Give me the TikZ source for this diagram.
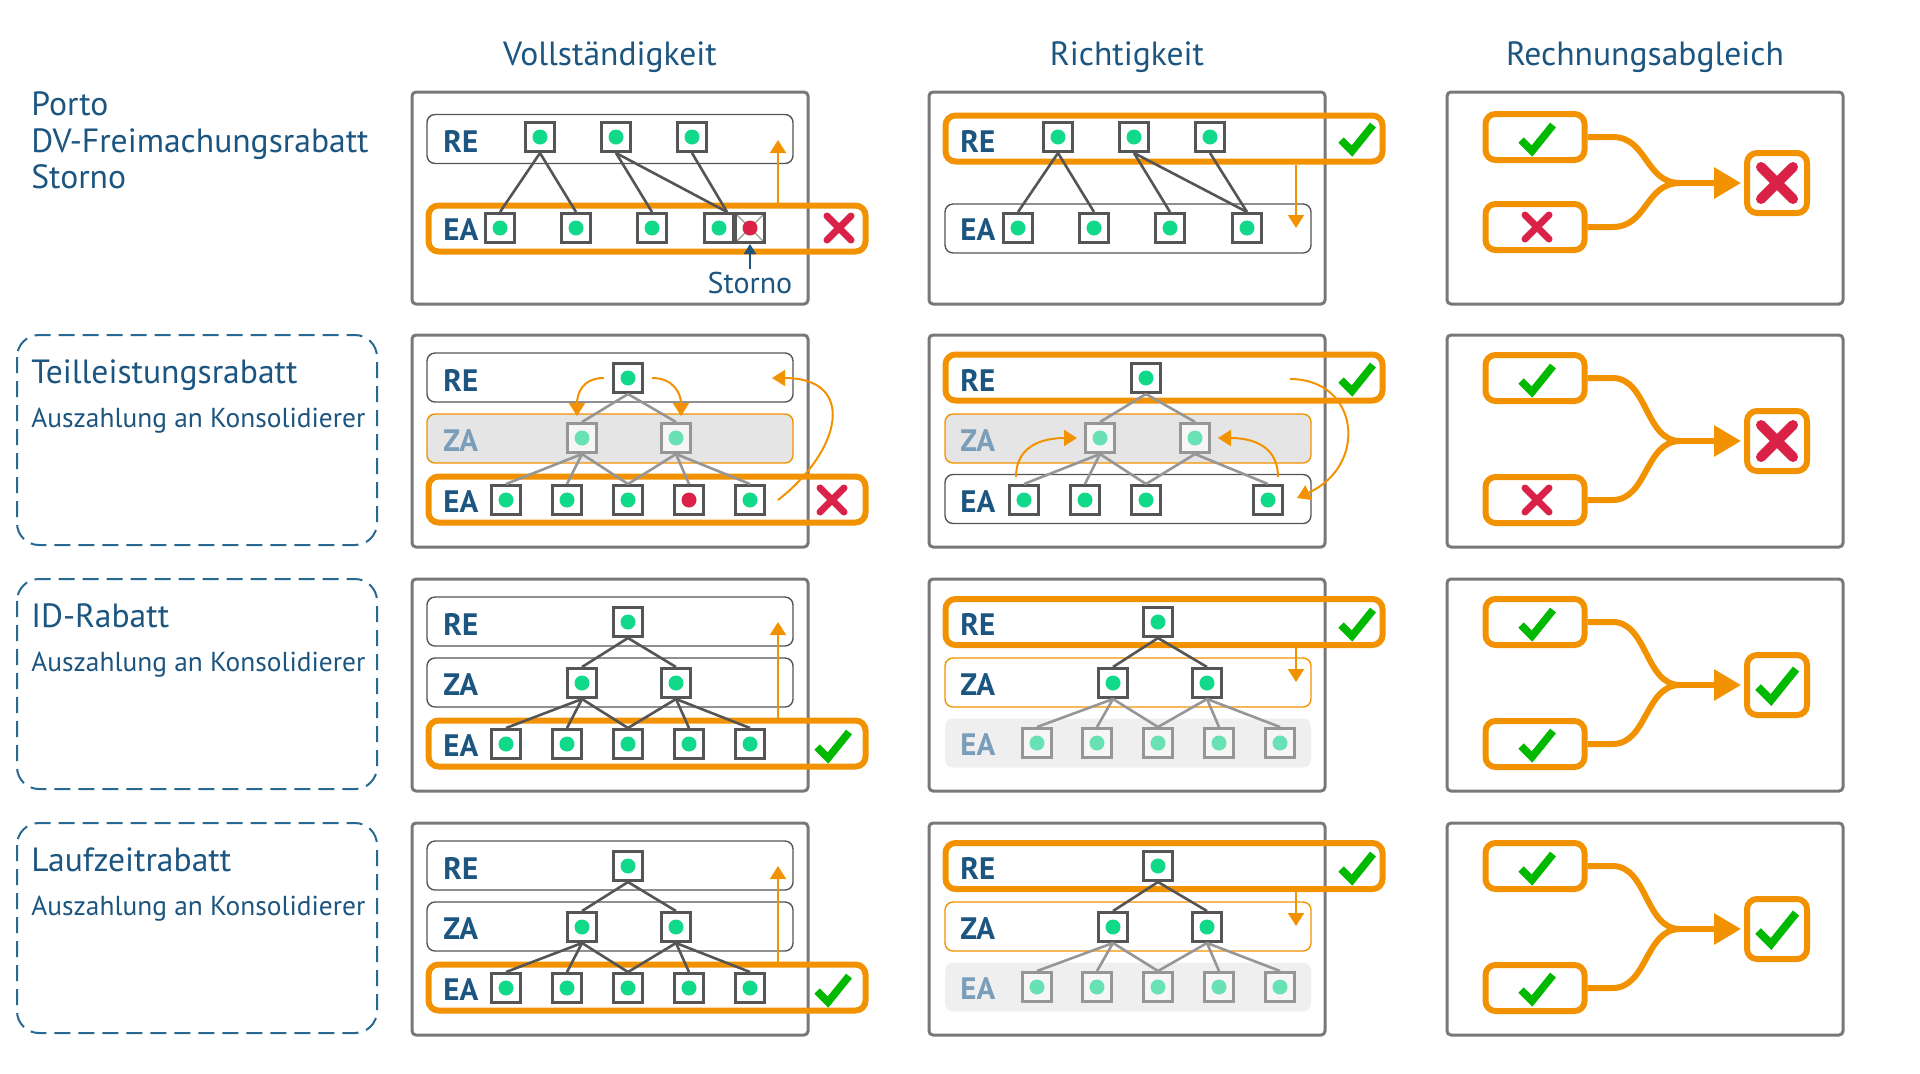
\documentclass[tikz,border=0pt]{standalone}
\usepackage{fontspec}
\setmainfont{PT Sans}
\usepackage{xcolor}
\usepackage{tikz}
\usetikzlibrary{arrows.meta,positioning,calc}

\definecolor{ttl}{RGB}{28,85,128}
\definecolor{grpblue}{RGB}{40,105,145}
\definecolor{orng}{RGB}{243,146,0}
\definecolor{okgreen}{RGB}{0,185,0}
\definecolor{errred}{RGB}{218,33,71}
\definecolor{dotgreen}{RGB}{16,217,137}
\definecolor{dotfade}{RGB}{104,226,180}
\definecolor{boxgray}{RGB}{85,85,85}
\definecolor{fadegray}{RGB}{150,150,150}
\definecolor{boxfill}{RGB}{246,246,246}
\definecolor{panelgray}{RGB}{120,120,120}
\definecolor{lblfade}{RGB}{122,157,186}
\definecolor{lanefill}{RGB}{229,229,229}
\definecolor{lanefill2}{RGB}{239,239,239}

\begin{document}
\begin{tikzpicture}[
    x=0.5pt, y=-0.5pt,
    head/.style={font=\fontsize{16.8}{20}\selectfont, text=ttl, inner sep=0pt},
    side/.style={font=\fontsize{16.8}{18.4}\selectfont, text=ttl, inner sep=0pt, align=left},
    sub/.style={font=\fontsize{13.7}{16}\selectfont, text=ttl, inner sep=0pt},
    lbl/.style={font=\bfseries\fontsize{15.5}{18}\selectfont, text=ttl, inner sep=0pt, anchor=west},
    dimlbl/.style={lbl, text=lblfade},
    note/.style={font=\fontsize{15}{17}\selectfont, text=ttl, inner sep=1pt},
    panel/.style={draw=panelgray, line width=1.5pt, rounded corners=2pt},
    groupbox/.style={draw=grpblue, line width=1pt, dash pattern=on 8pt off 4pt, rounded corners=11pt},
    lane/.style={draw=boxgray, line width=0.7pt, rounded corners=4pt, minimum width=183pt, minimum height=24.5pt, inner sep=0pt},
    dimlane/.style={lane, draw=orng, fill=lanefill},
    openlane/.style={lane, draw=orng},
    greylane/.style={lane, draw=none, fill=lanefill2},
    hot/.style={draw=orng, line width=3pt, rounded corners=5pt, minimum width=218.5pt, minimum height=23pt, inner sep=0pt},
    sqbase/.style={draw=boxgray, line width=1.5pt, fill=white, minimum size=14.5pt, inner sep=0pt},
    sq/.style={sqbase, path picture={\fill[dotgreen] (path picture bounding box.center) circle (3.75pt);}},
    sqdim/.style={sqbase, draw=fadegray, fill=boxfill,
      path picture={\fill[dotfade] (path picture bounding box.center) circle (3.75pt);}},
    sqbad/.style={sqbase, path picture={\fill[errred] (path picture bounding box.center) circle (3.75pt);}},
    sqstorno/.style={sqbase, path picture={
      \draw[fadegray, line width=0.6pt] (path picture bounding box.north west) -- (path picture bounding box.south east)
        (path picture bounding box.north east) -- (path picture bounding box.south west);
      \fill[errred] (path picture bounding box.center) circle (3.75pt);}},
    link/.style={draw=boxgray, line width=1.3pt},
    dimlink/.style={draw=fadegray, line width=1.3pt},
    warr/.style={draw=orng, line width=1pt, -{Triangle[width=8pt,length=6.5pt]}},
    stoarr/.style={draw=ttl, line width=1pt, -{Triangle[width=6pt,length=5pt]}},
    chip/.style={draw=orng, line width=3pt, rounded corners=5pt, minimum width=49.5pt, minimum height=23pt, inner sep=0pt},
    outbox/.style={chip, minimum width=30pt, minimum height=30pt},
    flow/.style={draw=orng, line width=3pt, line join=round},
    okmark/.pic={\draw[okgreen, line width=3.8pt] (-16,2) -- (-5,13) -- (16,-13);},
    badmark/.pic={\draw[errred, line width=3.5pt, line cap=round] (-12,-12) -- (12,12) (-12,12) -- (12,-12);},
    bigok/.pic={\draw[okgreen, line width=4pt] (-19,2) -- (-6,15) -- (19,-16);},
    bigbad/.pic={\draw[errred, line width=5pt, line cap=round] (-16,-16) -- (16,16) (-16,16) -- (16,-16);}
]
    \useasboundingbox (0,0) rectangle (1920,1073);

    % column heads
    \node (h1) [head, anchor=base] at (610,65) {Vollständigkeit};
    \node (h2) [head, anchor=base] at (1127,65) {Richtigkeit};
    \node (h3) [head, anchor=base] at (1645,65) {Rechnungsabgleich};

    % row heads
    \node (s1) [side, anchor=north west] at (31,91) {Porto\\DV-Freimachungsrabatt\\Storno};
    \begin{scope}[shift={(0,335)}]
        \draw[groupbox] (17,0) rectangle (377,210);
        \node (s2) [side, anchor=base west] at (31,48) {Teilleistungsrabatt};
        \node (s2b) [sub, anchor=base west] at (31,92) {Auszahlung an Konsolidierer};
    \end{scope}
    \begin{scope}[shift={(0,579)}]
        \draw[groupbox] (17,0) rectangle (377,210);
        \node (s3) [side, anchor=base west] at (31,48) {ID-Rabatt};
        \node (s3b) [sub, anchor=base west] at (31,92) {Auszahlung an Konsolidierer};
    \end{scope}
    \begin{scope}[shift={(0,823)}]
        \draw[groupbox] (17,0) rectangle (377,210);
        \node (s4) [side, anchor=base west] at (31,48) {Laufzeitrabatt};
        \node (s4b) [sub, anchor=base west] at (31,92) {Auszahlung an Konsolidierer};
    \end{scope}

    % Vollstaendigkeit, row 1
    \begin{scope}[shift={(412,92)}]
        \draw[panel] (0,0) rectangle (396,212);
        \node (re) [lane] at (198,47) {};
        \node (ea) [hot] at (235,136.5) {};
        \node (reL) [lbl] at (31,49) {RE};
        \node (eaL) [lbl] at (31,138) {EA};
        \foreach \n/\x in {1/128,2/204,3/280}
            \node (re\n) [sq] at (\x,45) {};
        \foreach \n/\x in {1/88,2/164,3/240,4/307}
            \node (ea\n) [sq] at (\x,136) {};
        \node (sto) [sqstorno] at (338,136) {};
        \coordinate (jn) at ($(ea4.north)+(8,0)$);
        \draw[link] (re1.south) -- (ea1.north);
        \draw[link] (re1.south) -- (ea2.north);
        \draw[link] (re2.south) -- (ea3.north);
        \draw[link] (re2.south) -- (jn);
        \draw[link] (re3.south) -- (jn);
        \coordinate (up) at (366,48);
        \draw[warr] (ea.north -| up) -- (up);
        \node (stxt) [note, anchor=base] at (338,201) {Storno};
        \draw[stoarr] (stxt.north) -- (sto.south);
        \pic at (427,136) {badmark};
    \end{scope}

    % Richtigkeit, row 1
    \begin{scope}[shift={(929,92)}]
        \draw[panel] (0,0) rectangle (396,212);
        \node (re) [hot] at (235,46.5) {};
        \node (ea) [lane] at (199,136.5) {};
        \node (reL) [lbl] at (31,49) {RE};
        \node (eaL) [lbl] at (31,138) {EA};
        \foreach \n/\x in {1/129,2/205,3/281}
            \node (re\n) [sq] at (\x,45) {};
        \foreach \n/\x in {1/89,2/165,3/241,4/318}
            \node (ea\n) [sq] at (\x,136) {};
        \draw[link] (re1.south) -- (ea1.north);
        \draw[link] (re1.south) -- (ea2.north);
        \draw[link] (re2.south) -- (ea3.north);
        \draw[link] (re2.south) -- (ea4.north);
        \draw[link] (re3.south) -- (ea4.north);
        \coordinate (dn) at (367,136);
        \draw[warr] (re.south -| dn) -- (dn);
        \pic at (428,46) {okmark};
    \end{scope}

    % Rechnungsabgleich, row 1
    \begin{scope}[shift={(1447,92)}]
        \draw[panel] (0,0) rectangle (396,212);
        \node (in1) [chip] at (88,45) {};
        \node (in2) [chip] at (88,135) {};
        \node (out) [outbox] at (330,91) {};
        \coordinate (mrg) at (233,91);
        \draw[flow] (in1.east) -- ++(25,0) .. controls +(35,0) and +(-35,0) .. (mrg);
        \draw[flow] (in2.east) -- ++(25,0) .. controls +(35,0) and +(-35,0) .. (mrg);
        \draw[flow, -{Triangle[length=13.5pt,width=15pt]}, shorten >=1.5pt] (mrg) -- (out.west);
        \pic at (90,46) {okmark};
        \pic at (90,135) {badmark};
        \pic at (330,91) {bigbad};
    \end{scope}

    % Vollstaendigkeit, row 2
    \begin{scope}[shift={(412,335)}]
        \draw[panel] (0,0) rectangle (396,212);
        \node (re) [lane] at (198,42.5) {};
        \node (za) [dimlane] at (198,103.5) {};
        \node (ea) [hot] at (235,164.5) {};
        \node (reL) [lbl] at (31,45) {RE};
        \node (zaL) [dimlbl] at (31,106) {ZA};
        \node (eaL) [lbl] at (31,167) {EA};
        \node (re1) [sq] at (216,43) {};
        \node (za1) [sqdim] at (170,103) {};
        \node (za2) [sqdim] at (264,103) {};
        \foreach \n/\x in {1/94,2/155,3/216,5/338}
            \node (ea\n) [sq] at (\x,165) {};
        \node (ea4) [sqbad] at (277,165) {};
        \draw[dimlink] (re1.south) -- (za1.north);
        \draw[dimlink] (re1.south) -- (za2.north);
        \foreach \e in {1,2,3}
            \draw[dimlink] (za1.south) -- (ea\e.north);
        \foreach \e in {3,4,5}
            \draw[dimlink] (za2.south) -- (ea\e.north);
        \draw[warr] ($(re1.west)+(-8,0)$) .. controls +(-22,0) and +(0,-22) .. ($(za1.north)+(-5,-6)$);
        \draw[warr] ($(re1.east)+(8,0)$) .. controls +(22,0) and +(0,-22) .. ($(za2.north)+(5,-6)$);
        \coordinate (a1) at (366,165);
        \coordinate (a2) at (360,43);
        \draw[warr] (a1) .. controls +(64,-50) and +(85,0) .. (a2);
        \pic at (420,165) {badmark};
    \end{scope}

    % Richtigkeit, row 2
    \begin{scope}[shift={(929,335)}]
        \draw[panel] (0,0) rectangle (396,212);
        \node (re) [hot] at (235,42.5) {};
        \node (za) [dimlane] at (199,103.5) {};
        \node (ea) [lane] at (199,164) {};
        \node (reL) [lbl] at (31,45) {RE};
        \node (zaL) [dimlbl] at (31,106) {ZA};
        \node (eaL) [lbl] at (31,167) {EA};
        \node (re1) [sq] at (217,43) {};
        \node (za1) [sqdim] at (171,103) {};
        \node (za2) [sqdim] at (266,103) {};
        \foreach \n/\x in {1/95,2/156,3/217,5/339}
            \node (ea\n) [sq] at (\x,165) {};
        \draw[dimlink] (re1.south) -- (za1.north);
        \draw[dimlink] (re1.south) -- (za2.north);
        \foreach \e in {1,2,3}
            \draw[dimlink] (za1.south) -- (ea\e.north);
        \foreach \e in {3,5}
            \draw[dimlink] (za2.south) -- (ea\e.north);
        \draw[warr] ($(ea1.north)+(-8,-7)$) .. controls +(0,-35) and +(-28,0) .. ($(za1.west)+(-7,0)$);
        \draw[warr] ($(ea5.north)+(10,-7)$) .. controls +(0,-35) and +(28,0) .. ($(za2.east)+(7,0)$);
        \coordinate (b1) at (361,44);
        \coordinate (b2) at (368,163);
        \draw[warr] (b1) .. controls +(69,0) and +(72,-33) .. (b2);
        \pic at (428,43) {okmark};
    \end{scope}

    % Rechnungsabgleich, row 2
    \begin{scope}[shift={(1447,335)}]
        \draw[panel] (0,0) rectangle (396,212);
        \node (in1) [chip] at (88,43) {};
        \node (in2) [chip] at (88,165) {};
        \node (out) [outbox] at (330,106) {};
        \coordinate (mrg) at (233,106);
        \draw[flow] (in1.east) -- ++(25,0) .. controls +(35,0) and +(-35,0) .. (mrg);
        \draw[flow] (in2.east) -- ++(25,0) .. controls +(35,0) and +(-35,0) .. (mrg);
        \draw[flow, -{Triangle[length=13.5pt,width=15pt]}, shorten >=1.5pt] (mrg) -- (out.west);
        \pic at (90,44) {okmark};
        \pic at (90,165) {badmark};
        \pic at (330,106) {bigbad};
    \end{scope}

    % rows 3 and 4
    \foreach \t in {579,823} {
        % Vollstaendigkeit
        \begin{scope}[shift={(412,\t)}]
            \draw[panel] (0,0) rectangle (396,212);
            \node (re) [lane] at (198,42.5) {};
            \node (za) [lane] at (198,103.5) {};
            \node (ea) [hot] at (235,164.5) {};
            \node (reL) [lbl] at (31,45) {RE};
            \node (zaL) [lbl] at (31,106) {ZA};
            \node (eaL) [lbl] at (31,167) {EA};
            \node (re1) [sq] at (216,43) {};
            \node (za1) [sq] at (170,104) {};
            \node (za2) [sq] at (264,104) {};
            \foreach \n/\x in {1/94,2/155,3/216,4/277,5/338}
                \node (ea\n) [sq] at (\x,165) {};
            \draw[link] (re1.south) -- (za1.north);
            \draw[link] (re1.south) -- (za2.north);
            \foreach \e in {1,2,3}
                \draw[link] (za1.south) -- (ea\e.north);
            \foreach \e in {3,4,5}
                \draw[link] (za2.south) -- (ea\e.north);
            \coordinate (up) at (366,43);
            \draw[warr] (ea.north -| up) -- (up);
            \pic at (421,166) {okmark};
        \end{scope}
        % Richtigkeit
        \begin{scope}[shift={(929,\t)}]
            \draw[panel] (0,0) rectangle (396,212);
            \node (re) [hot] at (235,43) {};
            \node (za) [openlane] at (199,103.5) {};
            \node (ea) [greylane] at (199,164) {};
            \node (reL) [lbl] at (31,45) {RE};
            \node (zaL) [lbl] at (31,106) {ZA};
            \node (eaL) [dimlbl] at (31,166) {EA};
            \node (re1) [sq] at (229,43) {};
            \node (za1) [sq] at (184,104) {};
            \node (za2) [sq] at (278,104) {};
            \foreach \n/\x in {1/108,2/168,3/229,4/290,5/351}
                \node (ea\n) [sqdim] at (\x,164) {};
            \draw[link] (re1.south) -- (za1.north);
            \draw[link] (re1.south) -- (za2.north);
            \foreach \e in {1,2,3}
                \draw[dimlink] (za1.south) -- (ea\e.north);
            \foreach \e in {3,4,5}
                \draw[dimlink] (za2.south) -- (ea\e.north);
            \coordinate (dn) at (367,103);
            \draw[warr] (re.south -| dn) -- (dn);
            \pic at (428,44) {okmark};
        \end{scope}
        % Rechnungsabgleich
        \begin{scope}[shift={(1447,\t)}]
            \draw[panel] (0,0) rectangle (396,212);
            \node (in1) [chip] at (88,43) {};
            \node (in2) [chip] at (88,165) {};
            \node (out) [outbox] at (330,106) {};
            \coordinate (mrg) at (233,106);
            \draw[flow] (in1.east) -- ++(25,0) .. controls +(35,0) and +(-35,0) .. (mrg);
            \draw[flow] (in2.east) -- ++(25,0) .. controls +(35,0) and +(-35,0) .. (mrg);
            \draw[flow, -{Triangle[length=13.5pt,width=15pt]}, shorten >=1.5pt] (mrg) -- (out.west);
            \pic at (90,44) {okmark};
            \pic at (90,165) {okmark};
            \pic at (330,106) {bigok};
        \end{scope}
    }
\end{tikzpicture}
\end{document}
